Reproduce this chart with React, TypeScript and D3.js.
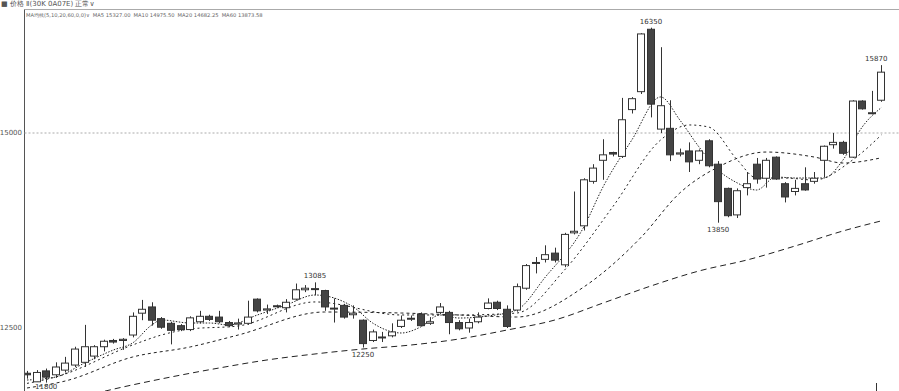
import React, { useRef, useEffect } from 'react';
import * as d3 from 'd3';

// OHLC per bar (left to right)
const opens = [
  11920, 11810, 11950, 11900, 11960, 12025, 12060, 12140, 12260, 12340,
  12340, 12410, 12690, 12770, 12620, 12560, 12530, 12480, 12580, 12650,
  12640, 12570, 12550, 12560, 12870, 12730, 12785, 12760, 12870, 12990,
  12995, 12980, 12745, 12790, 12670, 12600, 12340, 12375, 12400, 12520,
  12615, 12680, 12560, 12700, 12700, 12570, 12500, 12580, 12750, 12830,
  12740, 12730, 13010, 13330, 13380, 13460, 13310, 13720, 13810, 14380,
  14650, 14750, 14700, 15300, 15530, 16330, 15050, 15060, 14730, 14770,
  14650, 14900, 14600, 14290, 13950, 14300, 14600, 14420, 14690, 14350,
  14250, 14350, 14380, 14650, 14850, 14880, 14690, 15410, 15250, 15420,
];
const highs = [
  11950, 11960, 11980, 12060, 12130, 12260, 12540, 12280, 12350, 12360,
  12370, 12700, 12860, 12830, 12640, 12580, 12550, 12650, 12720, 12670,
  12720, 12590, 12620, 12850, 12880, 12800, 12800, 12870, 13070, 13050,
  13085, 12990, 12880, 12810, 12790, 12610, 12480, 12450, 12560, 12660,
  12660, 12700, 12640, 12820, 12720, 12600, 12620, 12700, 12880, 12850,
  12790, 13070, 13320, 13410, 13560, 13530, 13720, 14250, 14420, 14600,
  14920, 14760, 15450, 15460, 16280, 16350, 16100, 15420, 14800, 14880,
  14790, 14920, 14640, 14300, 14290, 14500, 14680, 14680, 14700, 14370,
  14400, 14560, 14500, 14840, 15000, 14900, 15420, 15420, 15540, 15870,
];
const lows = [
  11850, 11830, 11800, 11860, 11930, 12000, 12000, 12100, 12200, 12300,
  12220, 12380, 12600, 12530, 12490, 12290, 12460, 12460, 12560, 12590,
  12560, 12510, 12480, 12540, 12700, 12680, 12760, 12700, 12850, 12960,
  12920, 12720, 12570, 12620, 12620, 12250, 12320, 12320, 12380, 12500,
  12590, 12520, 12540, 12680, 12420, 12470, 12440, 12560, 12740, 12730,
  12500, 12710, 12990, 13200, 13340, 13340, 13280, 13700, 13750, 14350,
  14400, 14700, 14680, 15250, 15500, 15200, 15000, 14640, 14700, 14500,
  14600, 14560, 13850, 13920, 13910, 14200, 14350, 14300, 14400, 14110,
  14200, 14260, 14350, 14430, 14800, 14720, 14680, 15300, 15240, 15400,
];
const closes = [
  11900, 11930, 11870, 12000, 12050, 12230, 12260, 12260, 12330, 12320,
  12355, 12650, 12740, 12600, 12510, 12470, 12480, 12630, 12650, 12610,
  12580, 12530, 12565, 12640, 12720, 12745, 12775, 12830, 12990, 13010,
  13005, 12770, 12755, 12640, 12690, 12300, 12450, 12385, 12450, 12600,
  12625, 12530, 12580, 12770, 12570, 12490, 12570, 12640, 12820, 12750,
  12520, 13030, 13300, 13340, 13440, 13370, 13700, 13740, 14400, 14550,
  14720, 14730, 15170, 15440, 16270, 15370, 15350, 14720, 14745, 14630,
  14770, 14580, 14120, 13940, 14260, 14350, 14410, 14650, 14410, 14180,
  14290, 14270, 14420, 14830, 14880, 14740, 15410, 15310, 15260, 15780,
];

// moving averages, read at the bars where the line could be traced
const ma5Idx = [0, 3, 6, 9, 11, 13, 14, 17, 19, 21, 24, 27, 30, 34, 36, 39, 41, 43, 45, 48, 51, 54, 58, 60, 63, 66, 68, 70, 72, 74, 76, 78, 80, 83, 85, 87, 89];
const ma5Val = [11833, 11872, 12051, 12218, 12308, 12539, 12603, 12564, 12564, 12539, 12667, 12795, 12923, 12769, 12564, 12436, 12513, 12667, 12628, 12654, 12731, 13154, 13795, 14308, 14910, 15462, 15167, 14821, 14526, 14359, 14269, 14436, 14423, 14423, 14654, 15077, 15327];
const ma10Idx = [0, 3, 11, 14, 17, 22, 30, 39, 45, 51, 56, 61, 66, 69, 71, 74, 76, 79, 82, 86, 89];
const ma10Val = [11790, 11872, 12282, 12410, 12487, 12526, 12834, 12667, 12667, 12692, 13244, 14051, 14910, 15103, 15077, 14654, 14423, 14423, 14397, 14654, 14975.5];
const ma20Idx = [0, 4, 11, 17, 22, 31, 39, 45, 51, 58, 64, 68, 72, 77, 82, 85, 89];
const ma20Val = [11731, 11821, 12128, 12257, 12410, 12705, 12692, 12667, 12641, 13026, 13667, 14231, 14564, 14756, 14692, 14615, 14682.25];
const ma60Idx = [0, 5, 10, 15, 20, 25, 30, 35, 40, 45, 50, 55, 60, 65, 70, 75, 80, 85, 89];
const ma60Val = [11460, 11600, 11744, 11872, 11987, 12090, 12167, 12231, 12282, 12359, 12474, 12603, 12820, 13039, 13231, 13372, 13551, 13744, 13873.58];

const yTicks = [12500, 15000];

// high / low markers
const markIdx = [2, 30, 35, 65, 72, 89];
const markSide = ['low', 'high', 'low', 'high', 'low', 'high'];

const legend = [
  { name: 'MA5', value: '15327.00' },
  { name: 'MA10', value: '14975.50' },
  { name: 'MA20', value: '14682.25' },
  { name: 'MA60', value: '13873.58' },
];

function CandleChart() {
  const svgRef = useRef<SVGSVGElement | null>(null);

  useEffect(() => {
    const svg = d3.select(svgRef.current);
    svg.selectAll('*').remove();

    const W = 899;
    const H = 391;
    const axisX = 24.5;
    const topY = 9.5;
    const font = 'DejaVu Sans, Arial, sans-serif';

    const x = d3.scalePoint<number>().domain(d3.range(closes.length)).range([27, 881.4]);
    const y = d3.scaleLinear().domain([12500, 15000]).range([328, 133]);
    const bw = x.step() * 0.82;

    svg.append('rect').attr('width', W).attr('height', H).attr('fill', '#fff');

    // header rows
    svg.append('text').attr('x', 1).attr('y', 6).attr('font-size', 7).attr('font-family', font)
      .attr('fill', '#555').text('■ 价格 Ⅱ(30K 0A07E)  正常∨');
    svg.append('line').attr('x1', axisX).attr('x2', W).attr('y1', topY).attr('y2', topY)
      .attr('stroke', '#aaa').attr('stroke-width', 1);
    const lg = svg.append('text').attr('x', 26).attr('y', 17).attr('font-size', 5.2).attr('font-family', font).attr('fill', '#666');
    lg.append('tspan').text('MA均线(5,10,20,60,0,0)∨');
    legend.forEach((d) => {
      lg.append('tspan').attr('dx', 3).text(`${d.name} ${d.value}`);
    });

    // axis + grid
    svg.append('line').attr('x1', axisX).attr('x2', axisX).attr('y1', topY).attr('y2', H)
      .attr('stroke', '#555').attr('stroke-width', 1);
    yTicks.forEach((t) => {
      if (t === 15000) {
        svg.append('line').attr('x1', axisX).attr('x2', W).attr('y1', y(t)).attr('y2', y(t))
          .attr('stroke', '#aaa').attr('stroke-dasharray', '2,2');
      }
      svg.append('text').attr('x', 22).attr('y', y(t)).attr('dy', '0.35em').attr('text-anchor', 'end')
        .attr('font-size', 7).attr('font-family', font).attr('fill', '#555').text(t);
    });

    svg.append('defs').append('clipPath').attr('id', 'plot')
      .append('rect').attr('x', axisX + 0.5).attr('y', topY + 0.5).attr('width', W - axisX).attr('height', H - topY);
    const g = svg.append('g').attr('clip-path', 'url(#plot)');

    // moving averages
    const lines = [
      { idx: ma60Idx, val: ma60Val, dash: '6,4' },
      { idx: ma20Idx, val: ma20Val, dash: '3,3' },
      { idx: ma10Idx, val: ma10Val, dash: '2,3' },
      { idx: ma5Idx, val: ma5Val, dash: '1.5,1.5' },
    ];
    const lineGen = d3.line<number>()
      .x((i) => x(i) as number)
      .curve(d3.curveMonotoneX);
    lines.forEach((l) => {
      lineGen.y((_, k) => y(l.val[k]));
      g.append('path').attr('d', lineGen(l.idx)).attr('fill', 'none')
        .attr('stroke', '#222').attr('stroke-width', 1).attr('stroke-dasharray', l.dash);
    });

    // candles
    const bars = g.selectAll('.bar').data(d3.range(closes.length)).join('g').attr('class', 'bar');
    bars.append('line')
      .attr('x1', (i) => Math.round(x(i) as number) + 0.5)
      .attr('x2', (i) => Math.round(x(i) as number) + 0.5)
      .attr('y1', (i) => y(highs[i]))
      .attr('y2', (i) => y(lows[i]))
      .attr('stroke', '#333');
    bars.append('rect')
      .attr('x', (i) => Math.round((x(i) as number) - bw / 2) + 0.5)
      .attr('y', (i) => y(Math.max(opens[i], closes[i])))
      .attr('width', Math.round(bw) - 1)
      .attr('height', (i) => Math.max(1, Math.abs(y(opens[i]) - y(closes[i]))))
      .attr('fill', (i) => (closes[i] < opens[i] ? '#444' : '#fff'))
      .attr('stroke', '#333')
      .attr('stroke-width', 1);

    // high / low labels
    markIdx.forEach((i, k) => {
      const hi = markSide[k] === 'high';
      const v = hi ? highs[i] : lows[i];
      const ty = hi ? y(v) - 4 : Math.min(y(v) + 9, H - 2);
      g.append('text').attr('x', x(i) as number).attr('y', ty)
        .attr('text-anchor', i === closes.length - 1 ? 'end' : 'middle')
        .attr('dx', i === closes.length - 1 ? 6 : 0)
        .attr('font-size', 7).attr('font-family', font).attr('fill', '#333').text(v);
    });

    svg.append('line').attr('x1', 876.5).attr('x2', 876.5).attr('y1', 383).attr('y2', H)
      .attr('stroke', '#333');
  }, []);

  return (
    <svg ref={svgRef} width={899} height={391} style={{ position: 'absolute', left: 0, top: 0 }}></svg>
  );
}

export default function App() {
  return <CandleChart />;
}
